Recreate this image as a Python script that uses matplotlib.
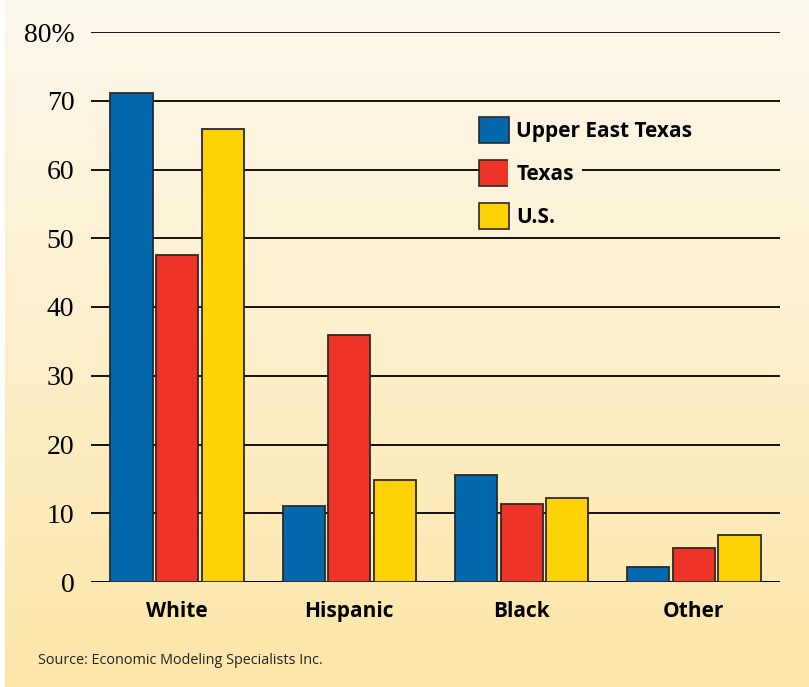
import numpy as np
import matplotlib
matplotlib.use("Agg")
import matplotlib.pyplot as plt
from matplotlib.patches import Patch

# data
categories = ["White", "Hispanic", "Black", "Other"]
upper_east_texas = [71.1, 11.1, 15.6, 2.2]
texas = [47.6, 35.9, 11.3, 4.9]
us = [65.9, 14.8, 12.2, 6.9]
series_names = ["Upper East Texas", "Texas", "U.S."]
yticks = [0, 10, 20, 30, 40, 50, 60, 70, 80]
ytick_labels = ["0", "10", "20", "30", "40", "50", "60", "70", "80%"]

colors = ["#0468AD", "#EE3427", "#FFD205"]
edge = "#2a2a2a"

fig = plt.figure(figsize=(8.09, 6.87), dpi=100)

# gradient background (cream at top, warmer yellow at bottom)
bg = fig.add_axes([5 / 809, 0, 1 - 5 / 809, 1], zorder=-10)
top = np.array([253, 248, 237]) / 255
bot = np.array([252, 230, 168]) / 255
t = np.linspace(0, 1, 256)[:, None]
grad = top * (1 - t) + bot * t
bg.imshow(grad[:, None, :], aspect="auto", extent=[0, 1, 0, 1])
bg.axis("off")

ax = fig.add_axes([91 / 809, 1 - 582 / 687, (780 - 91) / 809, (582 - 32) / 687])
ax.patch.set_alpha(0)

x = np.arange(len(categories))
w = 0.245
step = 0.265
for i, (vals, c, name) in enumerate(zip([upper_east_texas, texas, us], colors, series_names)):
    ax.bar(x + (i - 1) * step, vals, width=w, color=c, edgecolor=edge,
           linewidth=1.3, zorder=3, label=name)

ax.set_xlim(-0.5, 3.5)
ax.set_ylim(0, 80)
ax.set_yticks(yticks)
ax.set_yticklabels(ytick_labels, fontfamily="Liberation Serif", fontsize=20)
ax.set_xticks(x)
ax.set_xticklabels(categories, fontfamily="Open Sans", fontweight="bold", fontsize=15)
ax.tick_params(axis="y", length=0, pad=12)
ax.tick_params(axis="x", length=0, pad=14)
ax.yaxis.grid(True, color="black", linewidth=1.3, zorder=1)
ax.set_axisbelow(True)
for s in ax.spines.values():
    s.set_visible(False)
ax.axhline(0, color="black", linewidth=1.3, zorder=2)

handles = [Patch(facecolor=c, edgecolor=edge, linewidth=1.2) for c in colors]
leg = ax.legend(handles, series_names, loc="upper left", bbox_to_anchor=(0.563, 0.846),
                frameon=False, borderpad=0, borderaxespad=0,
                handlelength=1.45, handleheight=1.55, handletextpad=0.34,
                labelspacing=0.82, prop={"family": "Open Sans", "weight": "bold", "size": 15})
for txt in leg.get_texts():
    if txt.get_text() == "Texas":
        txt.set_bbox(dict(facecolor="#fdf3dc", edgecolor="none", pad=6))

fig.text(38 / 809, 1 - 661 / 687, "Source: Economic Modeling Specialists Inc.",
         fontfamily="Open Sans", fontsize=10.4, va="center", ha="left", color="#222222")

fig.savefig("out.png", dpi=100)
